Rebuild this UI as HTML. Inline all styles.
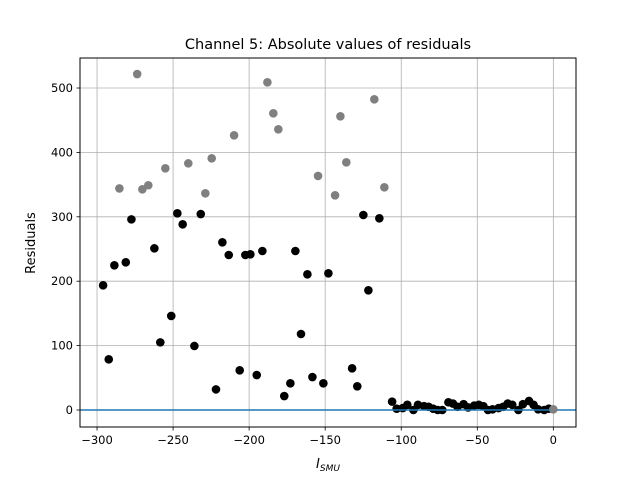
<!DOCTYPE html>
<html><head><meta charset="utf-8"><style>
html,body{margin:0;padding:0;background:#fff;}
svg{display:block;font-family:"DejaVu Sans","Liberation Sans",sans-serif;}
</style></head><body>
<svg id="chart" width="640" height="480" viewBox="0 0 640 480" xmlns="http://www.w3.org/2000/svg">
<rect width="640" height="480" fill="#fff"/>
<text x="328" y="49" text-anchor="middle" font-size="14.5">Channel 5: Absolute values of residuals</text>
<g id="grid"></g>
<g id="ticks"></g>
<g id="marks"></g>
<rect x="80" y="58" width="496" height="369" fill="none" stroke="#000" stroke-width="1"/>
<text x="328" y="468" text-anchor="middle" font-size="13" font-style="italic">I<tspan font-size="9" dy="3">SMU</tspan></text>
<text transform="translate(35,243) rotate(-90)" text-anchor="middle" font-size="13">Residuals</text>
</svg>
<script>
const xTicks=[-300,-250,-200,-150,-100,-50,0];
const yTicks=[0,100,200,300,400,500];
const grayX=[-273.6,-285.3,-270.2,-266.3,-255.1,-240,-228.8,-224.6,-209.9,-188,-184.1,-180.8,-154.7,-140,-117.7,-136.1,-143.5,-111.1];
const grayY=[521.7,344,342.7,349,375.3,383,336.5,390.8,426.5,508.8,460.7,435.8,363.4,456,482.4,384.6,333.4,345.8];
const blackX=[-296,-292.3,-288.6,-281.1,-277.4,-262.3,-258.4,-251.2,-247.2,-243.7,-236,-231.8,-221.8,-217.6,-213.4,-206.2,-202.5,-199.2,-195,-191.3,-176.9,-172.9,-169.6,-165.9,-161.7,-158.4,-151.2,-147.9,-132.3,-128.9,-124.9,-121.6,-114.4,
-106,-103,-99,-96,-92,-89,-85,-82,-79,-76,-73,-69,-66,-63,-59,-56,-52,-49,-46,-43,-40,-36,-33,-30,-27,-23,-20,-16,-13,-10,-6,-3];
const blackY=[193.6,78.7,224.7,229.3,296,251,105,146,305.4,288.3,99.4,304.3,32,260.4,240.7,61.6,240.7,241.7,54.3,246.9,21.7,41.4,246.9,118,210.7,51.2,41.4,212.3,64.7,36.8,302.8,185.9,297.7,
13,2,3,8,0,8,6,5,2,0,0,12,10,5,9,4,7,8,6,0,1,3,5,10,8,0,9,14,8,1,0,2];
const lastGrayX=[0], lastGrayY=[1];
const X0=-311.2,X1=14.9,Y0=-26.4,Y1=546.6;
const L=80,R=576,T=58,B=427;
const sx=v=>L+(v-X0)/(X1-X0)*(R-L);
const sy=v=>B-(v-Y0)/(Y1-Y0)*(B-T);
const NS="http://www.w3.org/2000/svg";
function mk(tag,attrs,parent){const e=document.createElementNS(NS,tag);for(const k in attrs)e.setAttribute(k,attrs[k]);parent.appendChild(e);return e;}
const grid=document.getElementById('grid'),ticks=document.getElementById('ticks'),marks=document.getElementById('marks');
xTicks.forEach(t=>{const x=sx(t);
 let g=mk('line',{x1:x,x2:x,y1:T,y2:B,stroke:'#b0b0b0','stroke-width':0.8},grid);
 
 
 let tk=mk('line',{x1:x,x2:x,y1:B,y2:B+3.5,stroke:'#000','stroke-width':0.8},ticks);
 
 
 let tx=mk('text',{x:x,y:B+17,'text-anchor':'middle','font-size':11.5},ticks);tx.textContent=String(t).replace('-','\u2212');
 
 
});
yTicks.forEach(t=>{const y=sy(t);
 let g=mk('line',{x1:L,x2:R,y1:y,y2:y,stroke:'#b0b0b0','stroke-width':0.8},grid);
 
 
 let tk=mk('line',{x1:L-3.5,x2:L,y1:y,y2:y,stroke:'#000','stroke-width':0.8},ticks);
 
 
 let tx=mk('text',{x:L-7,y:y+4,'text-anchor':'end','font-size':11.5},ticks);tx.textContent=t;
 
 
});
grayX.forEach((v,i)=>{let c=mk('circle',{cx:sx(v),cy:sy(grayY[i]),r:4.3,fill:'#808080'},marks);
 
 });
blackX.forEach((v,i)=>{let c=mk('circle',{cx:sx(v),cy:sy(blackY[i]),r:4.3,fill:'#000'},marks);
 
 });
let zl=mk('line',{x1:L,x2:R,y1:sy(0),y2:sy(0),stroke:'#1f77b4','stroke-width':1.6},marks);


lastGrayX.forEach((v,i)=>{let c=mk('circle',{cx:sx(v),cy:sy(lastGrayY[i]),r:4.3,fill:'#808080'},marks);
 
 });
</script>
</body></html>
